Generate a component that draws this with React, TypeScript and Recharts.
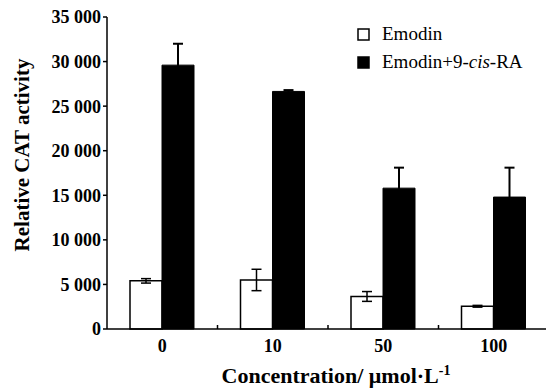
import React from "react";
import { BarChart, Bar, XAxis, YAxis, ErrorBar } from "recharts";

const categories = ["0", "10", "50", "100"];
const emodin = [5400, 5500, 3650, 2550];
const emodinErr = [250, 1200, 550, 100];
const emodinRA = [29600, 26650, 15800, 14800];
const emodinRAErr = [2400, 150, 2300, 3300];
const yTicks = [0, 5000, 10000, 15000, 20000, 25000, 30000, 35000];

const data = categories.map((c, i) => ({
  conc: c,
  emodin: emodin[i],
  emodinErr: emodinErr[i],
  emodinRA: emodinRA[i],
  emodinRAErr: emodinRAErr[i],
}));

const serif = "'Liberation Serif', 'Times New Roman', serif";

const fmtTick = (v: number) => (v === 0 ? "0" : `${Math.round(v / 1000)} 000`);

// category label plus the small inward tick on the band's right edge
function XTick(props: any) {
  const { x, y, payload, index } = props;
  const edge = x + (payload.offset ?? 0);
  return (
    <g>
      <text
        x={x}
        y={y + 23}
        textAnchor="middle"
        fontFamily={serif}
        fontWeight="bold"
        fontSize={18}
        fill="#000"
      >
        {payload.value}
      </text>
      {index < categories.length - 1 && (
        <line x1={edge} y1={y} x2={edge} y2={y - 4} stroke="#000" strokeWidth={1.5} />
      )}
    </g>
  );
}

function Legend() {
  const items = [
    { label: <>Emodin</>, fill: "#fff" },
    {
      label: (
        <>
          Emodin+9-<tspan fontStyle="italic">cis</tspan>-RA
        </>
      ),
      fill: "#000",
    },
  ];
  return (
    <g>
      {items.map((it, i) => (
        <g key={i}>
          <rect
            x={358}
            y={29 + i * 28}
            width={11}
            height={11}
            fill={it.fill}
            stroke="#000"
            strokeWidth={1.5}
          />
          <text x={382} y={40 + i * 28} fontFamily={serif} fontSize={19} fill="#000">
            {it.label}
          </text>
        </g>
      ))}
    </g>
  );
}

export default function App() {
  return (
    <div
      style={{
        position: "absolute",
        left: 0,
        top: 0,
        width: 546,
        height: 390,
        overflow: "hidden",
        background: "#fff",
      }}
    >
      <BarChart
        width={560}
        height={390}
        data={data}
        margin={{ top: 17, right: 11, left: 0, bottom: 0 }}
        barGap={0}
        barSize={32}
      >
        <XAxis
          dataKey="conc"
          height={61}
          tickLine={false}
          tickSize={0}
          tickMargin={0}
          axisLine={{ stroke: "#000", strokeWidth: 1.5 }}
          tick={<XTick />}
          interval={0}
          label={{
            content: () => (
              <text
                x={336}
                y={383}
                textAnchor="middle"
                fontFamily={serif}
                fontWeight="bold"
                fontSize={22}
                fill="#000"
              >
                Concentration/ μmol·L
                <tspan dy={-8} fontSize={14}>
                  -1
                </tspan>
              </text>
            ),
          }}
        />
        <YAxis
          width={107}
          domain={[0, 35000]}
          ticks={yTicks}
          tickFormatter={fmtTick}
          tickSize={4}
          tickMargin={2}
          axisLine={{ stroke: "#000", strokeWidth: 1.5 }}
          tickLine={{ stroke: "#000", strokeWidth: 1.5 }}
          tick={{
            fontFamily: serif,
            fontWeight: "bold",
            fontSize: 18,
            fill: "#000",
          }}
          label={{
            content: () => (
              <text
                x={0}
                y={0}
                transform="translate(29,155) rotate(-90)"
                textAnchor="middle"
                fontFamily={serif}
                fontWeight="bold"
                fontSize={21}
                fill="#000"
              >
                Relative CAT activity
              </text>
            ),
          }}
        />
        <Bar dataKey="emodin" fill="#fff" stroke="#000" strokeWidth={1.5} isAnimationActive={false}>
          <ErrorBar dataKey="emodinErr" width={5} stroke="#000" strokeWidth={1.5} />
        </Bar>
        <Bar dataKey="emodinRA" fill="#000" stroke="#000" strokeWidth={1} isAnimationActive={false}>
          <ErrorBar dataKey="emodinRAErr" width={5} stroke="#000" strokeWidth={2} />
        </Bar>
        <Legend />
      </BarChart>
    </div>
  );
}
